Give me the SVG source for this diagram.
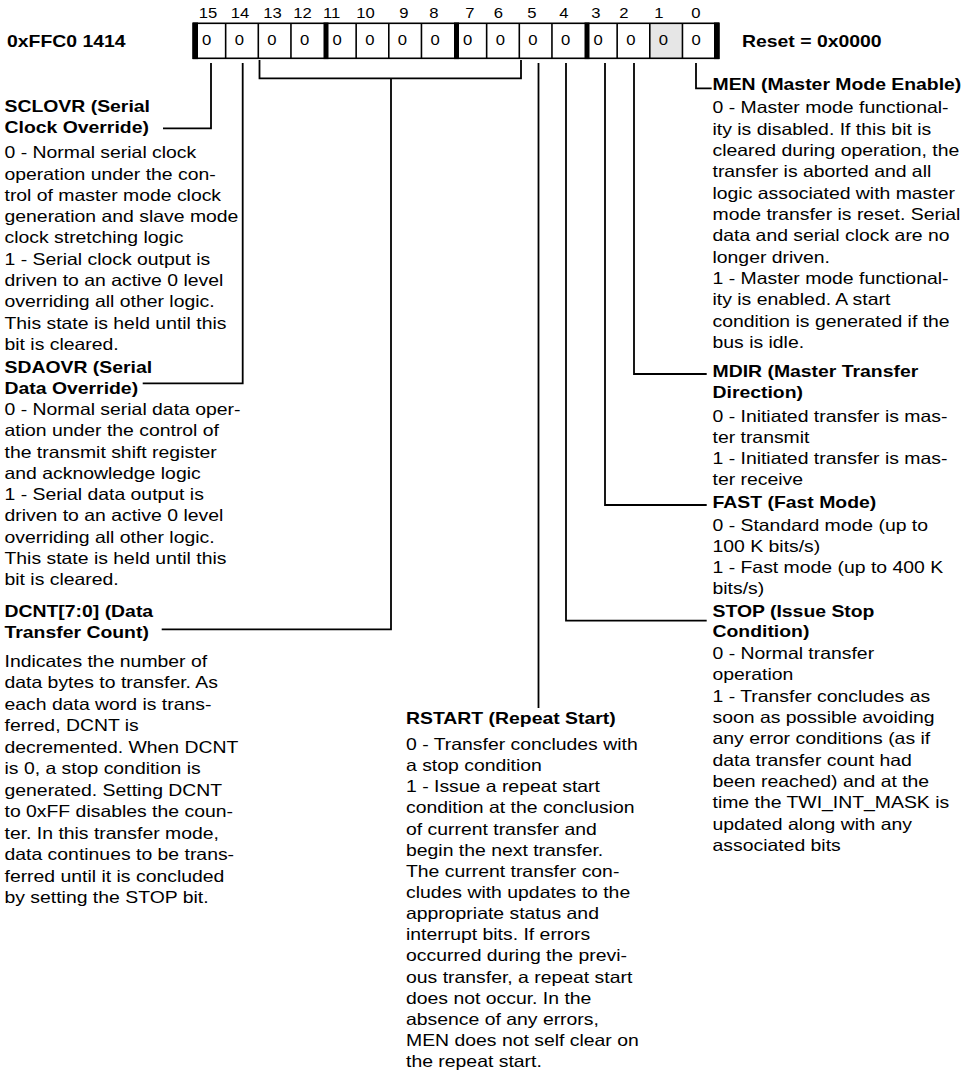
<svg xmlns="http://www.w3.org/2000/svg" width="964" height="1074" viewBox="0 0 964 1074">
<style>
.t{font-family:"Liberation Sans",Arial,Helvetica,sans-serif;font-size:16.3px;fill:#000}
.b{font-weight:bold}
.n{font-size:14px}
.ln{fill:none;stroke:#000;stroke-width:1.8}
.cl{stroke:#000;stroke-width:1.6}
</style>
<rect width="964" height="1074" fill="#fff"/>
<g id="register">
  <text class="t b" transform="translate(7,0) scale(1.19,1)" x="0" y="47.5">0xFFC0 1414</text>
  <text class="t b" transform="translate(742,0) scale(1.19,1)" x="0" y="47.5">Reset = 0x0000</text>
  <g class="t n" text-anchor="middle">
    <text transform="translate(208,0) scale(1.19,1)" y="18.3">15</text>
    <text transform="translate(240,0) scale(1.19,1)" y="18.3">14</text>
    <text transform="translate(272.5,0) scale(1.19,1)" y="18.3">13</text>
    <text transform="translate(302.5,0) scale(1.19,1)" y="18.3">12</text>
    <text transform="translate(331.7,0) scale(1.19,1)" y="18.3">11</text>
    <text transform="translate(365.5,0) scale(1.19,1)" y="18.3">10</text>
    <text transform="translate(404,0) scale(1.19,1)" y="18.3">9</text>
    <text transform="translate(434,0) scale(1.19,1)" y="18.3">8</text>
    <text transform="translate(470,0) scale(1.19,1)" y="18.3">7</text>
    <text transform="translate(498.3,0) scale(1.19,1)" y="18.3">6</text>
    <text transform="translate(532,0) scale(1.19,1)" y="18.3">5</text>
    <text transform="translate(564,0) scale(1.19,1)" y="18.3">4</text>
    <text transform="translate(596,0) scale(1.19,1)" y="18.3">3</text>
    <text transform="translate(624,0) scale(1.19,1)" y="18.3">2</text>
    <text transform="translate(659,0) scale(1.19,1)" y="18.3">1</text>
    <text transform="translate(696,0) scale(1.19,1)" y="18.3">0</text>
  </g>
  <rect x="649.8" y="23.3" width="32.65" height="35" fill="#e6e6e6"/>
  <rect x="193" y="23.3" width="526" height="35" fill="none" class="cl"/>
  <g class="cl">
    <line x1="225.65" y1="23.3" x2="225.65" y2="58.3"/>
    <line x1="258.3" y1="23.3" x2="258.3" y2="58.3"/>
    <line x1="290.95" y1="23.3" x2="290.95" y2="58.3"/>
    <line x1="356.15" y1="23.3" x2="356.15" y2="58.3"/>
    <line x1="388.8" y1="23.3" x2="388.8" y2="58.3"/>
    <line x1="421.45" y1="23.3" x2="421.45" y2="58.3"/>
    <line x1="486.65" y1="23.3" x2="486.65" y2="58.3"/>
    <line x1="519.3" y1="23.3" x2="519.3" y2="58.3"/>
    <line x1="551.95" y1="23.3" x2="551.95" y2="58.3"/>
    <line x1="617.15" y1="23.3" x2="617.15" y2="58.3"/>
    <line x1="649.8" y1="23.3" x2="649.8" y2="58.3"/>
    <line x1="682.45" y1="23.3" x2="682.45" y2="58.3"/>
  </g>
  <g fill="#000">
    <rect x="193" y="22.5" width="5" height="36.6"/>
    <rect x="323.5" y="22.5" width="5" height="36.6"/>
    <rect x="454" y="22.5" width="5" height="36.6"/>
    <rect x="584.5" y="22.5" width="5" height="36.6"/>
    <rect x="714" y="22.5" width="5" height="36.6"/>
  </g>
  <g class="t n">
    <text transform="translate(202,0) scale(1.19,1)" y="45">0</text>
    <text transform="translate(234.65,0) scale(1.19,1)" y="45">0</text>
    <text transform="translate(267.3,0) scale(1.19,1)" y="45">0</text>
    <text transform="translate(299.95,0) scale(1.19,1)" y="45">0</text>
    <text transform="translate(332.5,0) scale(1.19,1)" y="45">0</text>
    <text transform="translate(365.15,0) scale(1.19,1)" y="45">0</text>
    <text transform="translate(397.8,0) scale(1.19,1)" y="45">0</text>
    <text transform="translate(430.45,0) scale(1.19,1)" y="45">0</text>
    <text transform="translate(463,0) scale(1.19,1)" y="45">0</text>
    <text transform="translate(495.65,0) scale(1.19,1)" y="45">0</text>
    <text transform="translate(528.3,0) scale(1.19,1)" y="45">0</text>
    <text transform="translate(560.95,0) scale(1.19,1)" y="45">0</text>
    <text transform="translate(593.5,0) scale(1.19,1)" y="45">0</text>
    <text transform="translate(626.15,0) scale(1.19,1)" y="45">0</text>
    <text transform="translate(658.8,0) scale(1.19,1)" y="45">0</text>
    <text transform="translate(691.45,0) scale(1.19,1)" y="45">0</text>
  </g>
</g>
<g id="connectors" class="ln">
  <path d="M211,63 V128.3 H163"/>
  <path d="M242.7,63 V383.3 H142.7"/>
  <path d="M259.5,60 V78.3 H521 V60"/>
  <path d="M391,78.3 V629.3 H161.7"/>
  <path d="M538.5,63 V708"/>
  <path d="M566,63 V620.7 H706.7"/>
  <path d="M605,63 V505 H706.7"/>
  <path d="M634,63 V374 H706.7"/>
  <path d="M696,63 V88.3 H711.7"/>
</g>
<g id="sclovr">
  <text class="t" transform="translate(4.5,0) scale(1.19,1)">
    <tspan class="b" x="0" y="111.7">SCLOVR (Serial</tspan>
    <tspan class="b" x="0" y="133.3">Clock Override)</tspan>
    <tspan x="0" y="158.3">0 - Normal serial clock</tspan>
    <tspan x="0" y="179.6">operation under the con-</tspan>
    <tspan x="0" y="200.9">trol of master mode clock</tspan>
    <tspan x="0" y="222.2">generation and slave mode</tspan>
    <tspan x="0" y="243.5">clock stretching logic</tspan>
    <tspan x="0" y="264.8">1 - Serial clock output is</tspan>
    <tspan x="0" y="286.1">driven to an active 0 level</tspan>
    <tspan x="0" y="307.4">overriding all other logic.</tspan>
    <tspan x="0" y="328.7">This state is held until this</tspan>
    <tspan x="0" y="350">bit is cleared.</tspan>
  </text>
</g>
<g id="sdaovr">
  <text class="t" transform="translate(4.5,0) scale(1.19,1)">
    <tspan class="b" x="0" y="373">SDAOVR (Serial</tspan>
    <tspan class="b" x="0" y="394.5">Data Override)</tspan>
    <tspan x="0" y="415">0 - Normal serial data oper-</tspan>
    <tspan x="0" y="436.3">ation under the control of</tspan>
    <tspan x="0" y="457.6">the transmit shift register</tspan>
    <tspan x="0" y="478.9">and acknowledge logic</tspan>
    <tspan x="0" y="500.2">1 - Serial data output is</tspan>
    <tspan x="0" y="521.5">driven to an active 0 level</tspan>
    <tspan x="0" y="542.8">overriding all other logic.</tspan>
    <tspan x="0" y="564.1">This state is held until this</tspan>
    <tspan x="0" y="585.4">bit is cleared.</tspan>
  </text>
</g>
<g id="dcnt">
  <text class="t" transform="translate(4.5,0) scale(1.19,1)">
    <tspan class="b" x="0" y="616.7">DCNT[7:0] (Data</tspan>
    <tspan class="b" x="0" y="638">Transfer Count)</tspan>
    <tspan x="0" y="666.7">Indicates the number of</tspan>
    <tspan x="0" y="688.2">data bytes to transfer. As</tspan>
    <tspan x="0" y="709.7">each data word is trans-</tspan>
    <tspan x="0" y="731.2">ferred, DCNT is</tspan>
    <tspan x="0" y="752.7">decremented. When DCNT</tspan>
    <tspan x="0" y="774.2">is 0, a stop condition is</tspan>
    <tspan x="0" y="795.7">generated. Setting DCNT</tspan>
    <tspan x="0" y="817.2">to 0xFF disables the coun-</tspan>
    <tspan x="0" y="838.7">ter. In this transfer mode,</tspan>
    <tspan x="0" y="860.2">data continues to be trans-</tspan>
    <tspan x="0" y="881.7">ferred until it is concluded</tspan>
    <tspan x="0" y="903.2">by setting the STOP bit.</tspan>
  </text>
</g>
<g id="rstart">
  <text class="t" transform="translate(406,0) scale(1.19,1)">
    <tspan class="b" x="0" y="724">RSTART (Repeat Start)</tspan>
    <tspan x="0" y="750">0 - Transfer concludes with</tspan>
    <tspan x="0" y="771.2">a stop condition</tspan>
    <tspan x="0" y="792.3">1 - Issue a repeat start</tspan>
    <tspan x="0" y="813.5">condition at the conclusion</tspan>
    <tspan x="0" y="834.6">of current transfer and</tspan>
    <tspan x="0" y="855.8">begin the next transfer.</tspan>
    <tspan x="0" y="876.9">The current transfer con-</tspan>
    <tspan x="0" y="898.1">cludes with updates to the</tspan>
    <tspan x="0" y="919.2">appropriate status and</tspan>
    <tspan x="0" y="940.4">interrupt bits. If errors</tspan>
    <tspan x="0" y="961.5">occurred during the previ-</tspan>
    <tspan x="0" y="982.7">ous transfer, a repeat start</tspan>
    <tspan x="0" y="1003.8">does not occur. In the</tspan>
    <tspan x="0" y="1025">absence of any errors,</tspan>
    <tspan x="0" y="1046.1">MEN does not self clear on</tspan>
    <tspan x="0" y="1067.3">the repeat start.</tspan>
  </text>
</g>
<g id="men">
  <text class="t" transform="translate(712.5,0) scale(1.19,1)">
    <tspan class="b" x="0" y="90">MEN (Master Mode Enable)</tspan>
    <tspan x="0" y="113.3">0 - Master mode functional-</tspan>
    <tspan x="0" y="134.7">ity is disabled. If this bit is</tspan>
    <tspan x="0" y="156">cleared during operation, the</tspan>
    <tspan x="0" y="177.4">transfer is aborted and all</tspan>
    <tspan x="0" y="198.7">logic associated with master</tspan>
    <tspan x="0" y="220">mode transfer is reset. Serial</tspan>
    <tspan x="0" y="241.5">data and serial clock are no</tspan>
    <tspan x="0" y="262.8">longer driven.</tspan>
    <tspan x="0" y="284.2">1 - Master mode functional-</tspan>
    <tspan x="0" y="305.5">ity is enabled. A start</tspan>
    <tspan x="0" y="327">condition is generated if the</tspan>
    <tspan x="0" y="348.3">bus is idle.</tspan>
  </text>
</g>
<g id="mdir">
  <text class="t" transform="translate(712.5,0) scale(1.19,1)">
    <tspan class="b" x="0" y="377.3">MDIR (Master Transfer</tspan>
    <tspan class="b" x="0" y="398.5">Direction)</tspan>
    <tspan x="0" y="421.7">0 - Initiated transfer is mas-</tspan>
    <tspan x="0" y="442.9">ter transmit</tspan>
    <tspan x="0" y="464.2">1 - Initiated transfer is mas-</tspan>
    <tspan x="0" y="485.4">ter receive</tspan>
  </text>
</g>
<g id="fast">
  <text class="t" transform="translate(712.5,0) scale(1.19,1)">
    <tspan class="b" x="0" y="508.3">FAST (Fast Mode)</tspan>
    <tspan x="0" y="530.7">0 - Standard mode (up to</tspan>
    <tspan x="0" y="551.9">100 K bits/s)</tspan>
    <tspan x="0" y="573.2">1 - Fast mode (up to 400 K</tspan>
    <tspan x="0" y="594.4">bits/s)</tspan>
  </text>
</g>
<g id="stop">
  <text class="t" transform="translate(712.5,0) scale(1.19,1)">
    <tspan class="b" x="0" y="616.7">STOP (Issue Stop</tspan>
    <tspan class="b" x="0" y="637.5">Condition)</tspan>
    <tspan x="0" y="659.3">0 - Normal transfer</tspan>
    <tspan x="0" y="680.5">operation</tspan>
    <tspan x="0" y="701.7">1 - Transfer concludes as</tspan>
    <tspan x="0" y="723">soon as possible avoiding</tspan>
    <tspan x="0" y="744.3">any error conditions (as if</tspan>
    <tspan x="0" y="765.6">data transfer count had</tspan>
    <tspan x="0" y="787">been reached) and at the</tspan>
    <tspan x="0" y="808.3">time the TWI_INT_MASK is</tspan>
    <tspan x="0" y="829.6">updated along with any</tspan>
    <tspan x="0" y="851">associated bits</tspan>
  </text>
</g>
</svg>
